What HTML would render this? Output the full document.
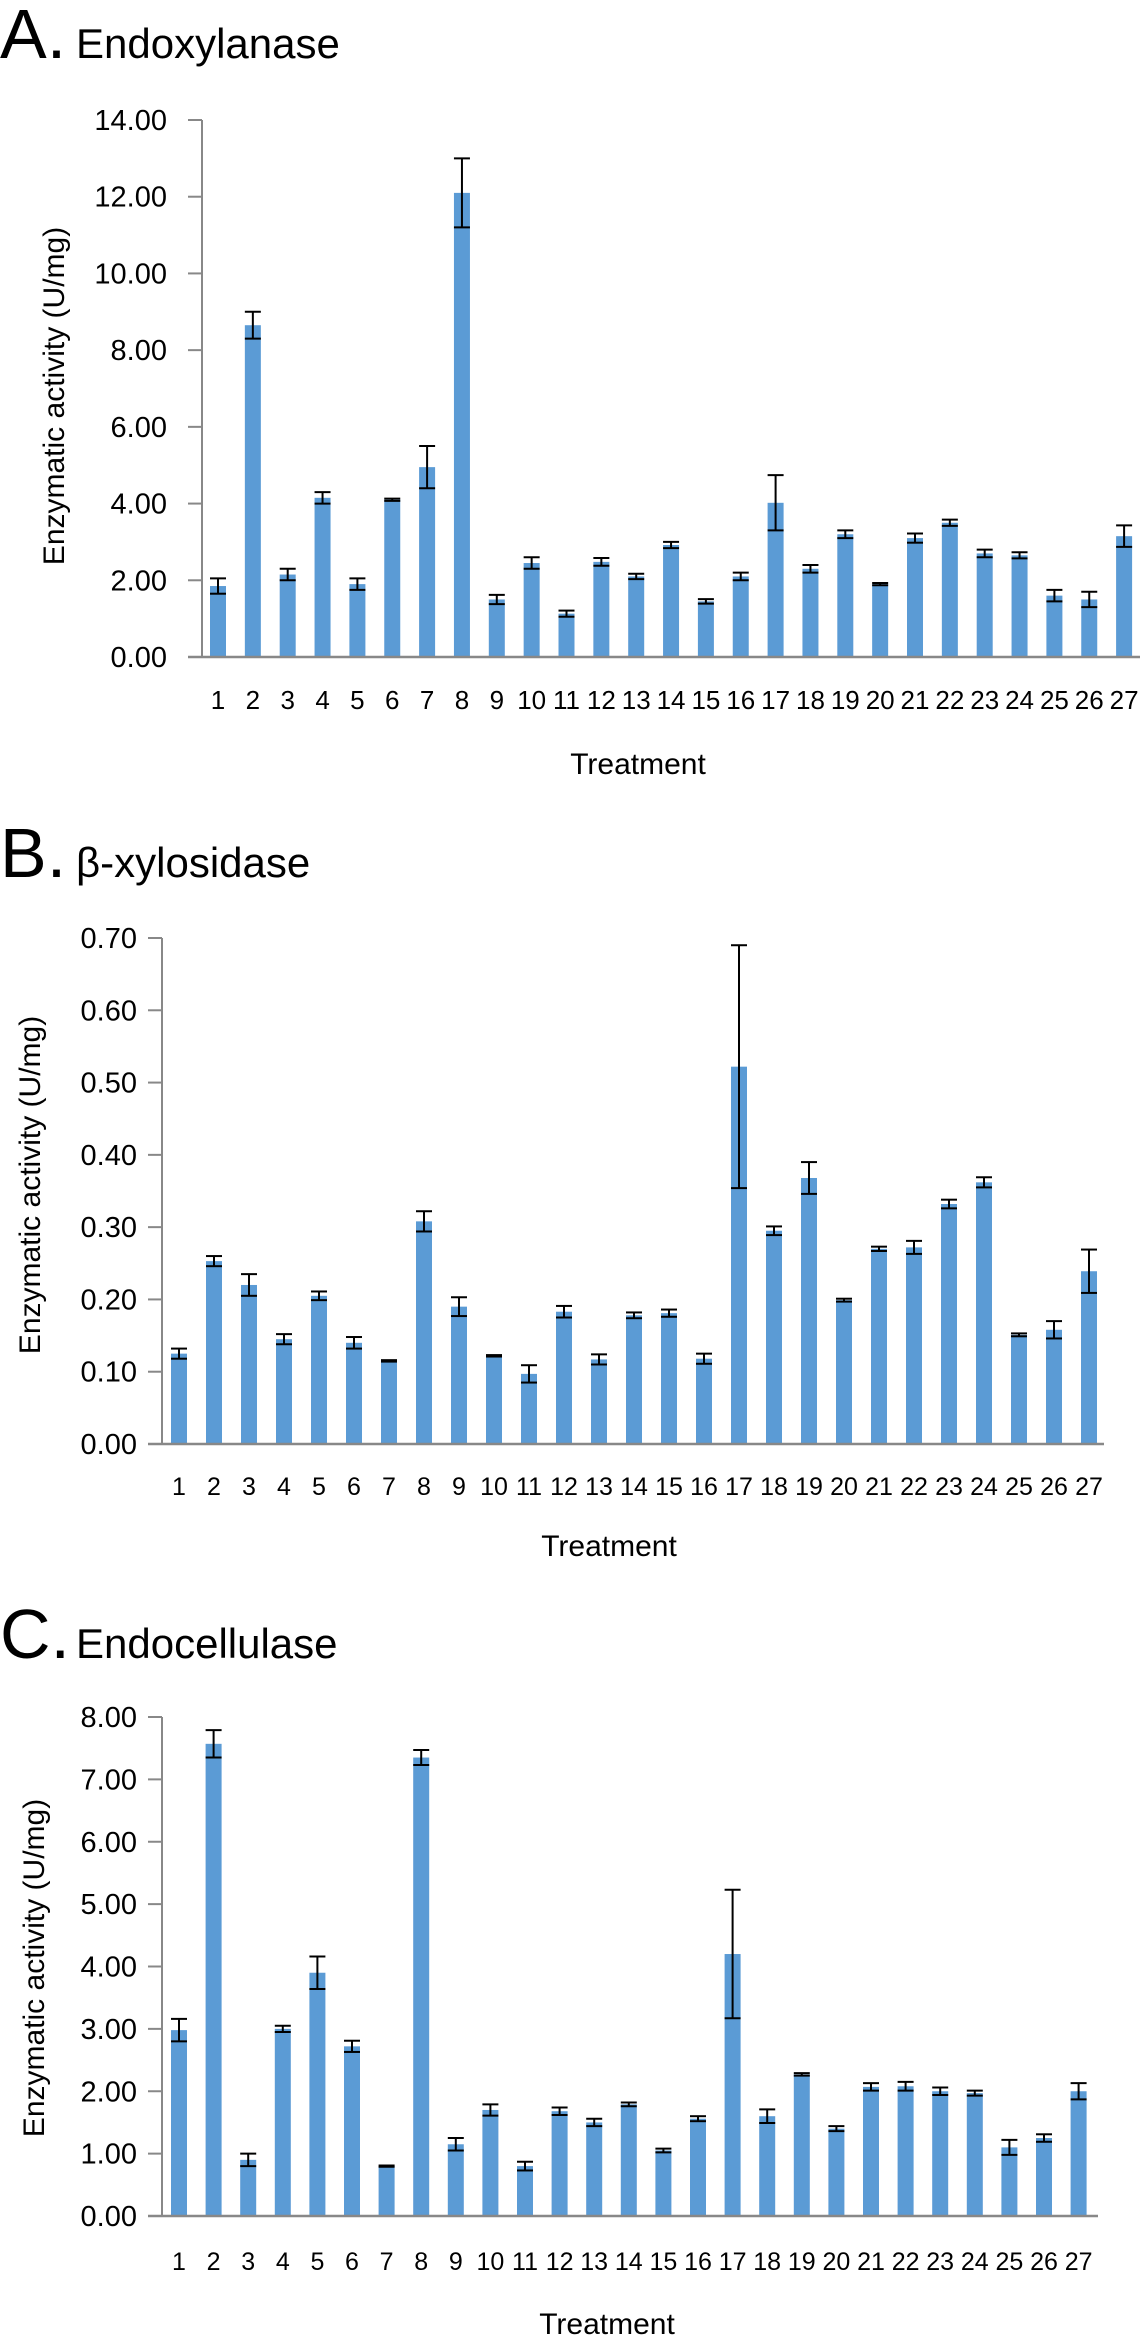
<!DOCTYPE html>
<html><head><meta charset="utf-8"><style>
html,body{margin:0;padding:0;background:#fff;}
svg{display:block;font-family:"Liberation Sans",Arial,sans-serif;}
</style></head><body>
<svg id="fig" width="1140" height="2337" viewBox="0 0 1140 2337" xmlns="http://www.w3.org/2000/svg"></svg>
<script>
const categories = ["1","2","3","4","5","6","7","8","9","10","11","12","13","14","15","16","17","18","19","20","21","22","23","24","25","26","27"];
const endoxylanaseValues = [1.85,8.65,2.15,4.15,1.9,4.1,4.95,12.1,1.5,2.45,1.13,2.48,2.1,2.92,1.45,2.1,4.02,2.3,3.2,1.9,3.1,3.5,2.7,2.65,1.6,1.5,3.15];
const endoxylanaseErrors = [0.2,0.35,0.15,0.15,0.15,0.03,0.55,0.9,0.12,0.15,0.08,0.1,0.07,0.08,0.06,0.1,0.72,0.1,0.1,0.03,0.12,0.08,0.1,0.08,0.15,0.2,0.28];
const endoxylanaseTicks = ["0.00","2.00","4.00","6.00","8.00","10.00","12.00","14.00"];
const xylosidaseValues = [0.125,0.253,0.22,0.145,0.205,0.14,0.115,0.308,0.19,0.122,0.097,0.183,0.117,0.178,0.181,0.118,0.522,0.295,0.368,0.199,0.27,0.272,0.332,0.362,0.151,0.158,0.239];
const xylosidaseErrors = [0.007,0.007,0.015,0.007,0.006,0.008,0.001,0.014,0.013,0.001,0.012,0.008,0.007,0.004,0.005,0.007,0.168,0.006,0.022,0.002,0.003,0.009,0.006,0.007,0.002,0.012,0.03];
const xylosidaseTicks = ["0.00","0.10","0.20","0.30","0.40","0.50","0.60","0.70"];
const endocellulaseValues = [2.98,7.57,0.9,3.0,3.9,2.72,0.8,7.35,1.15,1.7,0.8,1.68,1.5,1.79,1.05,1.56,4.2,1.6,2.27,1.4,2.07,2.08,2.0,1.97,1.1,1.25,2.0];
const endocellulaseErrors = [0.18,0.22,0.1,0.05,0.26,0.09,0.01,0.12,0.1,0.09,0.07,0.06,0.06,0.03,0.03,0.04,1.03,0.11,0.02,0.04,0.06,0.07,0.06,0.04,0.12,0.06,0.13];
const endocellulaseTicks = ["0.00","1.00","2.00","3.00","4.00","5.00","6.00","7.00","8.00"];

const NS="http://www.w3.org/2000/svg";
const svg=document.getElementById('fig');
function mk(tag,attrs,parent,text){const e=document.createElementNS(NS,tag);for(const k in attrs)e.setAttribute(k,attrs[k]);if(text!==undefined)e.textContent=text;(parent||svg).appendChild(e);return e;}

function drawPanel(p){
  const g=mk('g',{});
  
  
  const ymax=parseFloat(p.ticks[p.ticks.length-1]);
  const yS=v=>p.y0-(v/ymax)*(p.y0-p.yTop);
  const xS=i=>p.x1+i*p.step;
  const t1=mk('text',{x:0,y:p.titleY,'font-size':70,fill:'#000'},g,p.letter);
  
  
  const t2=mk('text',{x:76,y:p.titleY,'font-size':42,fill:'#000'},g,p.title);
  
  
  p.ticks.forEach((lab)=>{
    const v=parseFloat(lab);const y=yS(v);
    const tk=mk('line',{x1:p.ax-14,x2:p.ax,y1:y,y2:y,stroke:'#888','stroke-width':2},g);
    
    
    const tl=mk('text',{x:p.ax-p.labGap,y:y+10,'font-size':29,'text-anchor':'end',fill:'#000'},g,lab);
    
    
  });
  p.values.forEach((v,i)=>{
    const cx=xS(i);
    const b=mk('rect',{x:cx-8,y:yS(v),width:16,height:p.y0-yS(v),fill:'#5b9bd5'},g);
    
    
    const e=p.errors[i];
    const eg=mk('g',{stroke:'#000','stroke-width':2},g);
    
    
    mk('line',{x1:cx,x2:cx,y1:yS(v+e),y2:yS(v-e)},eg);
    mk('line',{x1:cx-8,x2:cx+8,y1:yS(v+e),y2:yS(v+e)},eg);
    mk('line',{x1:cx-8,x2:cx+8,y1:yS(v-e),y2:yS(v-e)},eg);
    const xl=mk('text',{x:cx,y:p.xLabY,'font-size':p.xFont,'text-anchor':'middle',fill:'#000'},g,categories[i]);
    
    
  });
  const ya=mk('line',{x1:p.ax,x2:p.ax,y1:p.yTop,y2:p.y0,stroke:'#888','stroke-width':2},g);
  
  
  const xa=mk('line',{x1:p.ax-14,x2:p.axEnd,y1:p.y0,y2:p.y0,stroke:'#888','stroke-width':2.5},g);
  
  
  const xt=mk('text',{x:p.xtX,y:p.xtY,'font-size':30,'text-anchor':'middle',fill:'#000'},g,'Treatment');
  
  
  const yt=mk('text',{x:0,y:0,'font-size':30,'text-anchor':'middle',fill:'#000',transform:`translate(${p.ytX},${p.ytY}) rotate(-90)`},g,'Enzymatic activity (U/mg)');
  
  
}

drawPanel({id:'endoxylanase',letter:'A.',title:'Endoxylanase',titleY:58,values:endoxylanaseValues,errors:endoxylanaseErrors,ticks:endoxylanaseTicks,
  ax:202,labGap:35,axEnd:1140,yTop:120,y0:657,x1:218,step:34.85,xLabY:709,xFont:26,xtX:638,xtY:774,ytX:64,ytY:396});
drawPanel({id:'xylosidase',letter:'B.',title:'\u03B2-xylosidase',titleY:877,values:xylosidaseValues,errors:xylosidaseErrors,ticks:xylosidaseTicks,
  ax:162,labGap:25,axEnd:1104,yTop:938,y0:1444,x1:179,step:35.0,xLabY:1495,xFont:25,xtX:609,xtY:1556,ytX:40,ytY:1185});
drawPanel({id:'endocellulase',letter:'C.',title:'Endocellulase',titleY:1658,values:endocellulaseValues,errors:endocellulaseErrors,ticks:endocellulaseTicks,
  ax:162,labGap:25,axEnd:1098,yTop:1717,y0:2216,x1:179,step:34.6,xLabY:2270,xFont:25,xtX:607,xtY:2334,ytX:44,ytY:1968});
</script>
</body></html>
